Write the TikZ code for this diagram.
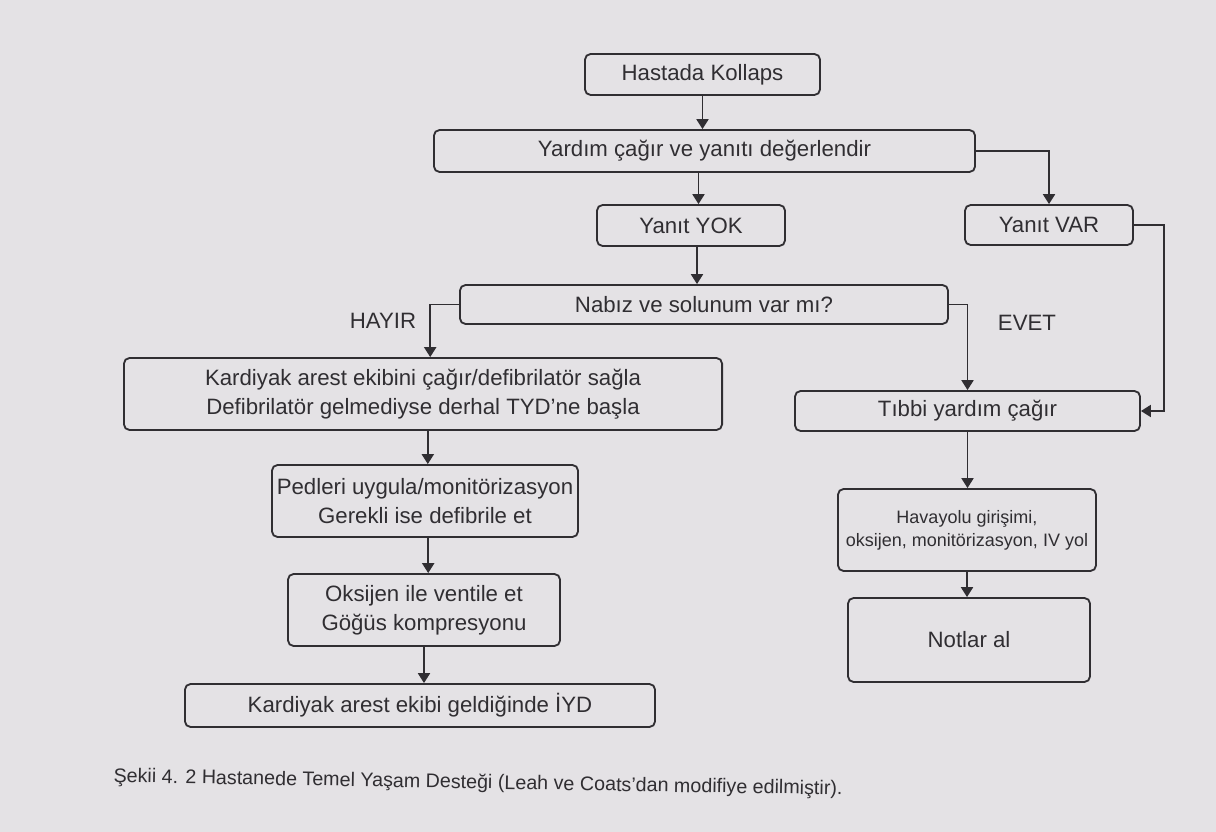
\documentclass[tikz,border=0pt]{standalone}
\usepackage{fontspec}
\setmainfont{Liberation Sans}
\usetikzlibrary{arrows.meta}
\definecolor{pagegray}{RGB}{228,226,229}
\definecolor{inkgray}{RGB}{48,46,50}

\begin{document}
\begin{tikzpicture}[x=0.025cm, y=-0.025cm, line width=1.3pt, color=inkgray,
  font=\fontsize{15.8}{20.5}\selectfont,
  flow box/.style={rectangle, rounded corners=4pt, draw, inner sep=0pt, align=center},
  flow arrow/.style={-{Triangle[width=8.5pt,length=7pt]}}]

\fill[pagegray] (0,0) rectangle (1216,832);

\node[flow box, minimum width=5.875cm, minimum height=1.025cm] (1) at (702.5,74.5) {Hastada Kollaps};
\node[flow box, minimum width=13.525cm, minimum height=1.05cm] (2) at (704.5,151) {Yardım çağır ve yanıtı değerlendir};
\node[flow box, minimum width=4.7cm, minimum height=1.025cm] (3) at (691,225.5) {Yanıt YOK};
\node[flow box, minimum width=4.2cm, minimum height=1cm] (4) at (1049,225) {Yanıt VAR};
\node[flow box, minimum width=12.2cm, minimum height=0.975cm] (5) at (704,304.5) {Nabız ve solunum var mı?};
\node[flow box, minimum width=14.95cm, minimum height=1.8cm] (6) at (423,394) {Kardiyak arest ekibini çağır/defibrilatör sağla\\Defibrilatör gelmediyse derhal TYD'ne başla};
\node[flow box, minimum width=8.625cm, minimum height=1cm] (7) at (967.5,411) {Tıbbi yardım çağır};
\node[flow box, minimum width=7.65cm, minimum height=1.8cm] (8) at (425,501) {Pedleri uygula/monitörizasyon\\Gerekli ise defibrile et};
\node[flow box, minimum width=6.8cm, minimum height=1.8cm] (9) at (424,610) {Oksijen ile ventile et\\Göğüs kompresyonu};
\node[flow box, minimum width=11.75cm, minimum height=1.075cm] (10) at (420,705.5) {Kardiyak arest ekibi geldiğinde İYD};
\node[flow box, minimum width=6.45cm, minimum height=2.05cm, font=\fontsize{12.8}{16.4}\selectfont] (11) at (967,530) {Havayolu girişimi,\\oksijen, monitörizasyon, IV yol};
\node[flow box, minimum width=6.05cm, minimum height=2.1cm] (12) at (969,640) {Notlar al};

\node (13) at (383,321) {HAYIR};
\node (14) at (1027,323) {EVET};

\node[anchor=west, rotate=-1, font=\fontsize{14}{16}\selectfont] (15) at (108,777) {Şekii 4. 2 Hastanede Temel Yaşam Desteği (Leah ve Coats'dan modifiye edilmiştir).};

\draw[flow arrow] (1.south) -- (1.south |- 2.north);
\draw[flow arrow] ([xshift=-0.15cm]2.south) -- ([xshift=-0.15cm]2.south |- 3.north);
\draw[flow arrow] (2.east) -| (4.north);
\draw[flow arrow] ([xshift=0.15cm]3.south) -- ([xshift=0.15cm]3.south |- 5.north);
\draw[flow arrow] (5.west) -| ([xshift=0.18cm]6.north);
\draw[flow arrow] (5.east) -| (7.north);
\draw[flow arrow] (4.east) -- ++(30,0) |- (7.east);
\draw[flow arrow] ([xshift=0.12cm]6.south) -- ([xshift=0.12cm]6.south |- 8.north);
\draw[flow arrow] ([xshift=0.08cm]8.south) -- ([xshift=0.08cm]8.south |- 9.north);
\draw[flow arrow] (9.south) -- (9.south |- 10.north);
\draw[flow arrow] (7.south) -- (7.south |- 11.north);
\draw[flow arrow] (11.south) -- (11.south |- 12.north);

\end{tikzpicture}
\end{document}
